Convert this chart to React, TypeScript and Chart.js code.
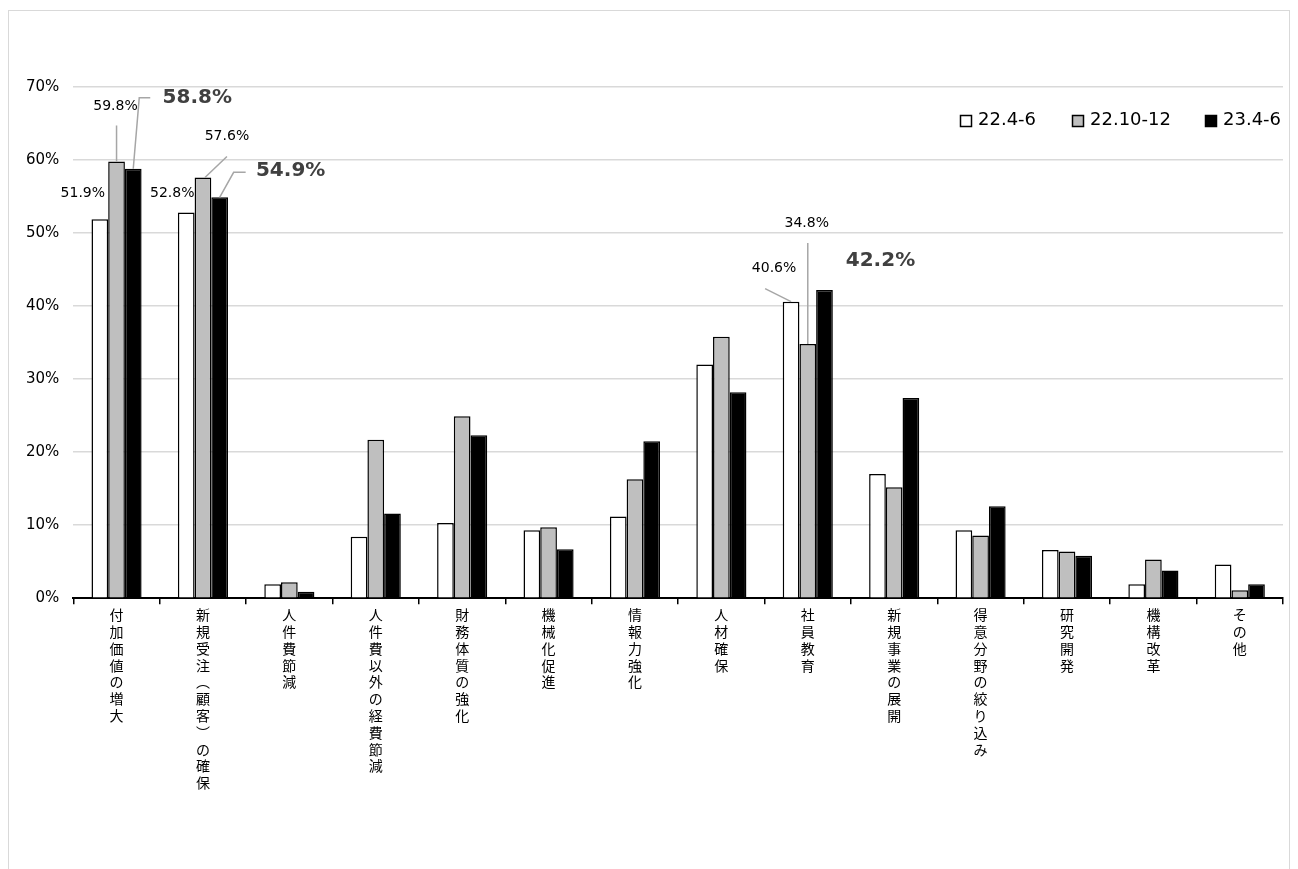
import { useEffect, useRef } from "react";
import Chart from "chart.js/auto";

const categories = [
  "付加価値の増大",
  "新規受注︵顧客︶の確保",
  "人件費節減",
  "人件費以外の経費節減",
  "財務体質の強化",
  "機械化促進",
  "情報力強化",
  "人材確保",
  "社員教育",
  "新規事業の展開",
  "得意分野の絞り込み",
  "研究開発",
  "機構改革",
  "その他",
];

const series2204 = [51.9, 52.8, 1.9, 8.4, 10.3, 9.3, 11.2, 32.0, 40.6, 17.0, 9.3, 6.6, 1.9, 4.6];
const series2210 = [59.8, 57.6, 2.2, 21.7, 24.9, 9.7, 16.3, 35.8, 34.8, 15.2, 8.6, 6.4, 5.3, 1.1];
const series2304 = [58.8, 54.9, 0.9, 11.6, 22.3, 6.7, 21.5, 28.2, 42.2, 27.4, 12.6, 5.8, 3.8, 1.9];

const seriesNames = ["22.4-6", "22.10-12", "23.4-6"];
const seriesColors = ["#ffffff", "#bfbfbf", "#000000"];

// callouts: dataset, index, text offset from bar top, bold, leader points relative to bar top
type Callout = { ds: number; i: number; dx: number; dy: number; bold: boolean; line: [number, number][] };
const callouts: Callout[] = [
  { ds: 0, i: 0, dx: -17, dy: -26, bold: false, line: [] },
  { ds: 1, i: 0, dx: -1, dy: -55, bold: false, line: [[0, 0], [0, -36]] },
  { ds: 2, i: 0, dx: 64, dy: -71, bold: true, line: [[0, 0], [6, -71], [17, -71]] },
  { ds: 0, i: 1, dx: -14, dy: -19, bold: false, line: [] },
  { ds: 1, i: 1, dx: 24, dy: -41, bold: false, line: [[2, 0], [24, -21]] },
  { ds: 2, i: 1, dx: 71, dy: -26, bold: true, line: [[0, 0], [14, -25], [26, -25]] },
  { ds: 0, i: 8, dx: -17, dy: -33, bold: false, line: [[0, 0], [-26, -13]] },
  { ds: 1, i: 8, dx: -1, dy: -121, bold: false, line: [[0, 0], [0, -101]] },
  { ds: 2, i: 8, dx: 56, dy: -29, bold: true, line: [] },
];

const legendX = [951, 1063, 1196];
const font = "'Verdana', 'DejaVu Sans', 'Noto Sans CJK JP', sans-serif";

export default function App() {
  const canvasRef = useRef<HTMLCanvasElement | null>(null);

  useEffect(() => {
    if (!canvasRef.current) return;
    const overlay = {
      id: "overlay",
      afterDatasetsDraw(chart: Chart) {
        const ctx = chart.ctx;
        ctx.save();
        for (const c of callouts) {
          const bar = chart.getDatasetMeta(c.ds).data[c.i] as any;
          const v = (chart.data.datasets[c.ds].data as number[])[c.i];
          if (c.line.length) {
            ctx.strokeStyle = "#a6a6a6";
            ctx.lineWidth = 1.5;
            ctx.beginPath();
            c.line.forEach(([lx, ly], k) => {
              if (k === 0) ctx.moveTo(bar.x + lx, bar.y + ly);
              else ctx.lineTo(bar.x + lx, bar.y + ly);
            });
            ctx.stroke();
          }
          ctx.fillStyle = c.bold ? "#404040" : "#000";
          ctx.font = c.bold ? `bold 20px ${font}` : `14px ${font}`;
          ctx.textAlign = "center";
          ctx.textBaseline = "middle";
          ctx.fillText(v.toFixed(1) + "%", bar.x + c.dx, bar.y + c.dy);
        }
        // legend
        const y = 109;
        ctx.font = `18px ${font}`;
        ctx.textAlign = "left";
        ctx.textBaseline = "middle";
        seriesNames.forEach((n, k) => {
          const x = legendX[k];
          ctx.fillStyle = seriesColors[k];
          ctx.fillRect(x, y - 5, 12, 12);
          ctx.strokeStyle = "#000";
          ctx.lineWidth = 1.5;
          ctx.strokeRect(x + 0.5, y - 4.5, 11, 11);
          ctx.fillStyle = "#000";
          ctx.fillText(n, x + 18, y);
        });
        ctx.restore();
      },
    };

    const chart = new Chart(canvasRef.current, {
      type: "bar",
      data: {
        labels: categories.map((c) => c.split("")),
        datasets: [series2204, series2210, series2304].map((d, k) => ({
          label: seriesNames[k],
          data: d,
          backgroundColor: seriesColors[k],
          borderColor: "#000",
          borderWidth: 1.5,
          categoryPercentage: 0.58,
          barPercentage: 1,
        })),
      },
      options: {
        animation: false,
        responsive: true,
        maintainAspectRatio: false,
        layout: { padding: { top: 76, left: 3, right: 6, bottom: 72 } },
        plugins: { legend: { display: false }, tooltip: { enabled: false } },
        scales: {
          x: {
            grid: { drawOnChartArea: false, drawTicks: true, tickLength: 6, color: "#000", lineWidth: 1.5, offset: true },
            border: { color: "#000", width: 2 },
            ticks: {
              color: "#000",
              maxRotation: 0,
              minRotation: 0,
              autoSkip: false,
              padding: 4,
              font: { size: 14, family: font, lineHeight: 1.2 },
            },
          },
          y: {
            min: 0,
            max: 70,
            ticks: {
              stepSize: 10,
              color: "#000",
              padding: 14,
              font: { size: 15, family: font },
              callback: (v) => v + "%",
            },
            grid: { color: "#d9d9d9", lineWidth: 1.5, drawTicks: false },
            border: { display: false },
          },
        },
      },
      plugins: [overlay],
    });
    return () => chart.destroy();
  }, []);

  return (
    <div style={{ height: 858, marginTop: 2, border: "1px solid #d9d9d9", borderBottom: "none" }}>
      <canvas ref={canvasRef} />
    </div>
  );
}
